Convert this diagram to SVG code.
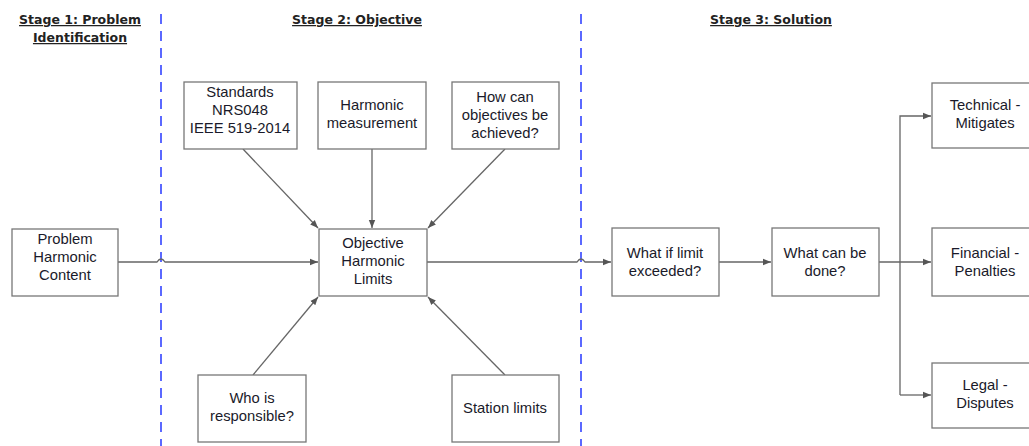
<svg xmlns="http://www.w3.org/2000/svg" width="1029" height="446" viewBox="0 0 1029 446">
  <defs>
    <marker id="arr" viewBox="0 0 10 10" refX="10" refY="5" markerWidth="8" markerHeight="8" markerUnits="userSpaceOnUse" orient="auto">
      <path d="M0,1 L10,5 L0,9 Z" fill="#555"/>
    </marker>
    <style>
      .box { fill: #fff; stroke: #777; stroke-width: 1.3; }
      .lbl { font-family: "Liberation Sans", Arial, sans-serif; font-size: 14.8px; fill: #1a1a2a; text-anchor: middle; }
      .hdr { font-family: "DejaVu Sans", Verdana, sans-serif; font-size: 12.5px; font-weight: bold; fill: #222; text-anchor: middle; text-decoration: underline; }
      .con { fill: none; stroke: #666; stroke-width: 1.3; }
      .div { stroke: #3344ff; stroke-width: 1.6; stroke-dasharray: 10 7; }
    </style>
  </defs>
  <rect width="1029" height="446" fill="#fff"/>

  <!-- stage headers -->
  <g id="headers">
    <text class="hdr" x="80" y="24">Stage 1: Problem</text>
    <text class="hdr" x="80" y="42">Identification</text>
    <text class="hdr" x="357" y="24">Stage 2: Objective</text>
    <text class="hdr" x="771" y="24">Stage 3: Solution</text>
  </g>

  <!-- stage dividers -->
  <g id="dividers">
    <line class="div" x1="161" y1="14" x2="161" y2="446"/>
    <line class="div" x1="581" y1="14" x2="581" y2="446"/>
  </g>

  <!-- connectors -->
  <g id="connectors">
    <path class="con" d="M118,262 H157 Q161,256 165,262 H318" marker-end="url(#arr)"/>
    <path class="con" d="M243,149 L318,228" marker-end="url(#arr)"/>
    <path class="con" d="M372,149 L372,228" marker-end="url(#arr)"/>
    <path class="con" d="M505,149 L428,228" marker-end="url(#arr)"/>
    <path class="con" d="M253,375 L318,297" marker-end="url(#arr)"/>
    <path class="con" d="M505,375 L428,297" marker-end="url(#arr)"/>
    <path class="con" d="M427,262 H577 Q581,256 585,262 H611" marker-end="url(#arr)"/>
    <path class="con" d="M719,262 H771" marker-end="url(#arr)"/>
    <path class="con" d="M879,262 H931" marker-end="url(#arr)"/>
    <path class="con" d="M900,395 V116 H931" marker-end="url(#arr)"/>
    <path class="con" d="M900,395 H931" marker-end="url(#arr)"/>
  </g>

  <g id="problem">
    <rect class="box" x="12" y="229" width="106" height="67"/>
    <text class="lbl" x="65" y="244">Problem</text>
    <text class="lbl" x="65" y="262">Harmonic</text>
    <text class="lbl" x="65" y="280">Content</text>
  </g>

  <g id="objective">
    <rect class="box" x="319" y="229" width="108" height="67"/>
    <text class="lbl" x="373" y="248">Objective</text>
    <text class="lbl" x="373" y="266">Harmonic</text>
    <text class="lbl" x="373" y="284">Limits</text>
  </g>

  <g id="standards">
    <rect class="box" x="184" y="82" width="113" height="67"/>
    <text class="lbl" x="240" y="97">Standards</text>
    <text class="lbl" x="240" y="115">NRS048</text>
    <text class="lbl" x="240" y="133">IEEE 519-2014</text>
  </g>

  <g id="measurement">
    <rect class="box" x="318" y="82" width="108" height="67"/>
    <text class="lbl" x="372" y="110">Harmonic</text>
    <text class="lbl" x="372" y="128">measurement</text>
  </g>

  <g id="how">
    <rect class="box" x="452" y="82" width="107" height="67"/>
    <text class="lbl" x="505" y="102">How can</text>
    <text class="lbl" x="505" y="120">objectives  be</text>
    <text class="lbl" x="505" y="138">achieved?</text>
  </g>

  <g id="who">
    <rect class="box" x="198" y="375" width="108" height="67"/>
    <text class="lbl" x="252" y="403">Who is</text>
    <text class="lbl" x="252" y="421">responsible?</text>
  </g>

  <g id="station">
    <rect class="box" x="452" y="375" width="107" height="67"/>
    <text class="lbl" x="505" y="413">Station limits</text>
  </g>

  <g id="exceeded">
    <rect class="box" x="612" y="228" width="107" height="68"/>
    <text class="lbl" x="665" y="258">What if limit</text>
    <text class="lbl" x="665" y="276">exceeded?</text>
  </g>

  <g id="done">
    <rect class="box" x="772" y="228" width="107" height="68"/>
    <text class="lbl" x="825" y="258">What can be</text>
    <text class="lbl" x="825" y="276">done?</text>
  </g>

  <g id="technical">
    <rect class="box" x="932" y="83" width="108" height="65"/>
    <text class="lbl" x="985" y="110">Technical -</text>
    <text class="lbl" x="985" y="128">Mitigates</text>
  </g>

  <g id="financial">
    <rect class="box" x="932" y="228" width="108" height="68"/>
    <text class="lbl" x="985" y="258">Financial -</text>
    <text class="lbl" x="985" y="276">Penalties</text>
  </g>

  <g id="legal">
    <rect class="box" x="932" y="363" width="108" height="65"/>
    <text class="lbl" x="985" y="390">Legal -</text>
    <text class="lbl" x="985" y="408">Disputes</text>
  </g>
</svg>
